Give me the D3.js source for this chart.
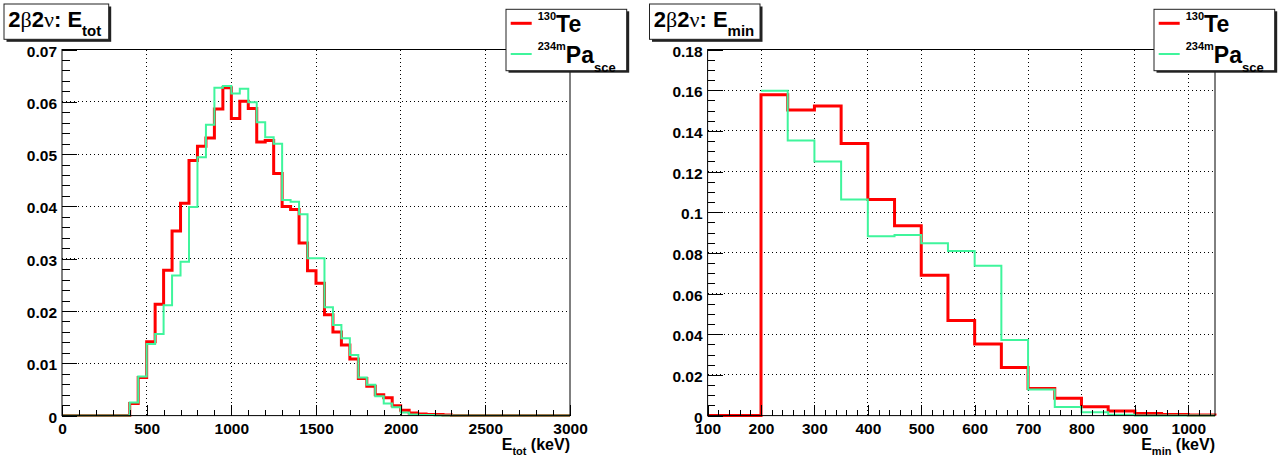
<!DOCTYPE html>
<html><head><meta charset="utf-8">
<script src="https://cdn.jsdelivr.net/npm/d3@7"></script>
<style>
html,body{margin:0;padding:0;background:#fff;}
svg{display:block;}
text{font-family:"Liberation Sans",Arial,Helvetica,sans-serif;font-weight:bold;fill:#000;}
</style></head><body>
<svg id="c" width="1279" height="461"></svg>
<script>
// ---------- DATA ----------
// Left panel: E_tot histogram, 50 keV bins from 0 to 3000 keV
const etotBinWidth = 50;
const etotBinStarts = d3.range(0, 3000, 50);
const etotTe130 = [
  0,0,0,0,0,0,0,0, 0.0023,0.0073,
  0.0141,0.0213,0.0278,0.0353,0.0406,0.0488,0.0515,0.0531,0.0586,0.0627,
  0.0568,0.0601,0.0587,0.0523,0.0526,0.0463,0.0400,0.0394,0.0330,0.0277,
  0.0253,0.0193,0.0160,0.0135,0.0108,0.0071,0.0056,0.0040,0.0034,0.0019,
  0.0010,0.0005,0.0003,0.0002,0.0002,0.0001,0,0,0,0,
  0,0,0,0,0,0,0,0,0,0
];
const etotPa234m = [
  0,0,0,0,0,0,0,0, 0.0025,0.0075,
  0.0137,0.0156,0.0211,0.0268,0.0294,0.0399,0.0494,0.0556,0.0627,0.0630,
  0.0616,0.0625,0.0599,0.0561,0.0532,0.0520,0.0412,0.0409,0.0385,0.0301,
  0.0301,0.0207,0.0173,0.0148,0.0116,0.0073,0.0059,0.0037,0.0023,0.0016,
  0.0006,0.0002,0.0001,0.0001,0,0,0,0,0,0,
  0,0,0,0,0,0,0,0,0,0
];
const etotXTicks = [0,500,1000,1500,2000,2500,3000];
const etotYTicks = [0,0.01,0.02,0.03,0.04,0.05,0.06,0.07];

// Right panel: E_min histogram, 50 keV bins from 100 to 1050 keV
const eminBinWidth = 50;
const eminBinStarts = d3.range(100, 1050, 50);
const eminTe130 = [
  0,0,0.1578,0.1502,0.1522,0.1338,0.1063,0.0934,0.0690,0.0467,
  0.0352,0.0236,0.0133,0.0085,0.0044,0.0023,0.0010,0.0005,0.0003
];
const eminPa234m = [
  null,null,0.1597,0.1353,0.1249,0.1063,0.0882,0.0888,0.0848,0.0809,
  0.0737,0.0372,0.0128,0.0042,0.0017,0.0004,0.0001,0.0001,0
];
const eminXTicks = [100,200,300,400,500,600,700,800,900,1000];
const eminYTicks = [0,0.02,0.04,0.06,0.08,0.1,0.12,0.14,0.16,0.18];

const colorTe = "#ff0000";
const colorPa = "#3ff59c";

// ---------- DRAW ----------
const svg = d3.select("#c");
svg.append("rect").attr("width",1279).attr("height",461).attr("fill","#fff");

const fmtY = v => v === 0 ? "0" : String(+v.toFixed(3));

function histPoints(starts, width, vals){
  const pts = []; let started = false; let lastB = null;
  vals.forEach((v,i)=>{
    if (v == null) return;
    const a = starts[i], b = a + width;
    if(!started){ if (i === 0) pts.push([a,0]); started = true; }
    pts.push([a,v],[b,v]);
    lastB = b;
  });
  pts.push([lastB,0]);
  return pts;
}

function drawPanel(cfg){
  const g = svg.append("g");
  const x = d3.scaleLinear().domain(cfg.xDomain).range([cfg.x0, cfg.x1]);
  const y = d3.scaleLinear().domain(cfg.yDomain).range([cfg.y1, cfg.y0]);

  // grid
  g.selectAll(null).data(cfg.xTicks.filter(v=>v>cfg.xDomain[0] && v<cfg.xDomain[1]))
    .join("line").attr("x1",d=>x(d)).attr("x2",d=>x(d))
    .attr("y1",cfg.y0).attr("y2",cfg.y1)
    .attr("stroke","#000").attr("stroke-width",1).attr("stroke-dasharray","1,3")
    .attr("shape-rendering","crispEdges");
  g.selectAll(null).data(cfg.yTicks.filter(v=>v>cfg.yDomain[0] && v<cfg.yDomain[1]))
    .join("line").attr("y1",d=>y(d)).attr("y2",d=>y(d))
    .attr("x1",cfg.x0).attr("x2",cfg.x1)
    .attr("stroke","#000").attr("stroke-width",1).attr("stroke-dasharray","1,3")
    .attr("shape-rendering","crispEdges");

  // histograms
  const line = d3.line().x(d=>x(d[0])).y(d=>y(d[1]));
  g.append("path").attr("d", line(histPoints(cfg.starts, cfg.width, cfg.te)))
    .attr("fill","none").attr("stroke",colorTe).attr("stroke-width",3);
  g.append("path").attr("d", line(histPoints(cfg.starts, cfg.width, cfg.pa)))
    .attr("fill","none").attr("stroke",colorPa).attr("stroke-width",2);

  // frame
  g.append("rect").attr("x",cfg.x0).attr("y",cfg.y0)
    .attr("width",cfg.x1-cfg.x0).attr("height",cfg.y1-cfg.y0)
    .attr("fill","none").attr("stroke","#000").attr("stroke-width",1);

  // minor ticks
  const eps = 1e-9;
  const xMinor = d3.range(cfg.xDomain[0], cfg.xDomain[1]+eps, cfg.xMinor)
     .filter(v=>!cfg.xTicks.some(t=>Math.abs(t-v)<eps));
  const yMinor = d3.range(cfg.yDomain[0], cfg.yDomain[1]+eps, cfg.yMinor)
     .filter(v=>!cfg.yTicks.some(t=>Math.abs(t-v)<1e-6));

  const xAxisMinor = g.append("g").attr("transform",`translate(0,${cfg.y1})`)
    .call(d3.axisBottom(x).tickValues(xMinor).tickSize(-5.5).tickFormat(""));
  const xAxis = g.append("g").attr("transform",`translate(0,${cfg.y1})`)
    .call(d3.axisBottom(x).tickValues(cfg.xTicks).tickSize(-11).tickPadding(7)
      .tickFormat(d3.format("d")));
  const yAxisMinor = g.append("g").attr("transform",`translate(${cfg.x0},0)`)
    .call(d3.axisLeft(y).tickValues(yMinor).tickSize(-7.5).tickFormat(""));
  const yAxis = g.append("g").attr("transform",`translate(${cfg.x0},0)`)
    .call(d3.axisLeft(y).tickValues(cfg.yTicks).tickSize(-15).tickPadding(5).tickFormat(fmtY));
  [xAxisMinor,xAxis,yAxisMinor,yAxis].forEach(a=>{
    a.select(".domain").remove();
    a.selectAll(".tick line").attr("stroke","#000").attr("shape-rendering","crispEdges");
    a.selectAll("text").attr("font-size",15.5).attr("font-family",null).attr("fill","#000");
  });
  yAxis.selectAll("text").attr("dy","0.42em");

  // axis title
  const t = g.append("text").attr("x",cfg.x1).attr("y",450).attr("text-anchor","end").attr("font-size",16);
  t.append("tspan").text("E");
  t.append("tspan").attr("font-size",11).attr("dy",5).text(cfg.sub);
  t.append("tspan").attr("dy",-5).text(" (keV)");

  // title box
  const tb = cfg.titleBox;
  g.append("rect").attr("x",tb.x+2.5).attr("y",tb.y+2.5).attr("width",tb.w).attr("height",tb.h).attr("fill","#222");
  g.append("rect").attr("x",tb.x).attr("y",tb.y).attr("width",tb.w).attr("height",tb.h)
    .attr("fill","#fff").attr("stroke","#222").attr("stroke-width",1);
  const tt = g.append("text").attr("x",tb.x+4.3).attr("y",26.7).attr("font-size",22);
  tt.append("tspan").text("2");
  tt.append("tspan").attr("font-family","Liberation Serif, DejaVu Serif, serif").attr("font-weight","normal").text("β");
  tt.append("tspan").text("2");
  tt.append("tspan").attr("font-family","Liberation Serif, DejaVu Serif, serif").attr("font-weight","normal").text("ν");
  tt.append("tspan").text(": E");
  tt.append("tspan").attr("font-size",15).attr("y",36).text(cfg.sub);

  // legend
  const lb = cfg.legendBox;
  g.append("rect").attr("x",lb.x+2.5).attr("y",lb.y+2).attr("width",lb.w).attr("height",lb.h).attr("fill","#222");
  g.append("rect").attr("x",lb.x).attr("y",lb.y).attr("width",lb.w).attr("height",lb.h)
    .attr("fill","#fff").attr("stroke","#222").attr("stroke-width",1);
  g.append("line").attr("x1",lb.x+4.7).attr("x2",lb.x+25.7).attr("y1",23.3).attr("y2",23.3)
    .attr("stroke",colorTe).attr("stroke-width",3);
  g.append("line").attr("x1",lb.x+4.7).attr("x2",lb.x+25.7).attr("y1",54).attr("y2",54)
    .attr("stroke",colorPa).attr("stroke-width",2);
  const l1 = g.append("text").attr("x",lb.x+31.7).attr("y",31.7).attr("font-size",23);
  l1.append("tspan").attr("font-size",11).attr("y",20).text("130");
  l1.append("tspan").attr("y",31.7).text("Te");
  const l2 = g.append("text").attr("x",lb.x+31.7).attr("y",63.3).attr("font-size",23);
  l2.append("tspan").attr("font-size",11).attr("y",50).text("234m");
  l2.append("tspan").attr("y",63.3).text("Pa");
  l2.append("tspan").attr("font-size",13).attr("y",71.5).text("sce");
}

drawPanel({
  x0:62, x1:570, y0:49.5, y1:415.6,
  xDomain:[0,3000], yDomain:[0,0.07],
  xTicks:etotXTicks, yTicks:etotYTicks, xMinor:100, yMinor:0.002,
  starts:etotBinStarts, width:etotBinWidth, te:etotTe130, pa:etotPa234m,
  sub:"tot",
  titleBox:{x:4, y:4, w:104.7, h:35.3},
  legendBox:{x:506, y:9.3, w:120.7, h:61.4}
});
drawPanel({
  x0:707.6, x1:1215, y0:49.5, y1:415.6,
  xDomain:[100,1050], yDomain:[0,0.18],
  xTicks:eminXTicks, yTicks:eminYTicks, xMinor:20, yMinor:0.005,
  starts:eminBinStarts, width:eminBinWidth, te:eminTe130, pa:eminPa234m,
  sub:"min",
  titleBox:{x:649.5, y:4, w:110.5, h:35.3},
  legendBox:{x:1154, y:9.3, w:120.7, h:61.4}
});
</script>
</body></html>
